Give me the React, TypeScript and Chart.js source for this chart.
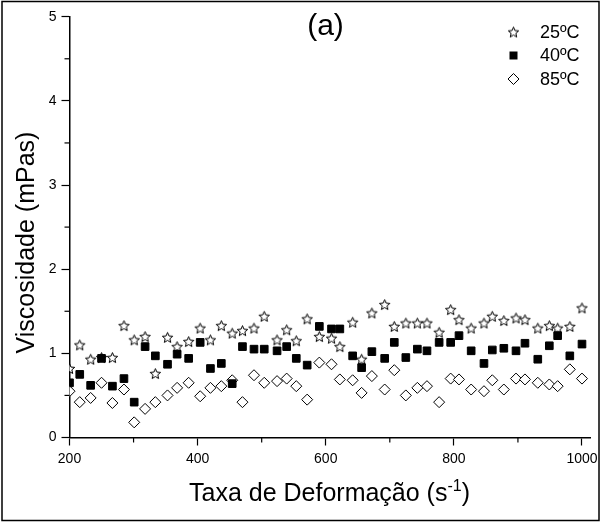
import { useEffect, useRef } from 'react';
import { Chart, registerables } from 'chart.js';

Chart.register(...registerables);

// Shear rate (s^-1) shared by the three temperature series
const shearRate = [200, 216, 233, 250, 267, 285, 301, 318, 334, 353, 368, 386, 404, 420, 437, 454, 470, 488, 504, 524, 539, 554, 571, 590, 609, 622, 642, 656, 672, 692, 707, 725, 743, 758, 777, 795, 808, 827, 847, 860, 878, 897, 911, 931, 949, 962, 981, 1000];

// Viscosity (mPas) at each temperature
const visc25 = [0.82, 1.10, 0.93, 0.95, 0.95, 1.33, 1.16, 1.20, 0.76, 1.19, 1.08, 1.14, 1.30, 1.16, 1.33, 1.24, 1.27, 1.30, 1.44, 1.16, 1.28, 1.15, 1.41, 1.20, 1.18, 1.08, 1.37, 0.93, 1.48, 1.58, 1.32, 1.36, 1.36, 1.36, 1.25, 1.52, 1.40, 1.30, 1.36, 1.44, 1.39, 1.42, 1.40, 1.30, 1.33, 1.30, 1.32, 1.54];
const visc40 = [0.65, 0.75, 0.62, 0.94, 0.61, 0.70, 0.42, 1.08, 0.97, 0.87, 0.99, 0.94, 1.13, 0.82, 0.88, 0.64, 1.08, 1.05, 1.05, 1.03, 1.08, 0.94, 0.86, 1.32, 1.29, 1.29, 0.97, 0.83, 1.02, 0.94, 1.13, 0.95, 1.05, 1.03, 1.13, 1.13, 1.21, 1.03, 0.88, 1.04, 1.06, 1.03, 1.12, 0.93, 1.09, 1.21, 0.97, 1.11];
const visc85 = [0.55, 0.42, 0.47, 0.65, 0.41, 0.57, 0.18, 0.34, 0.42, 0.50, 0.59, 0.65, 0.49, 0.59, 0.61, 0.68, 0.42, 0.74, 0.65, 0.67, 0.70, 0.61, 0.45, 0.89, 0.87, 0.69, 0.68, 0.53, 0.73, 0.57, 0.80, 0.50, 0.59, 0.61, 0.42, 0.70, 0.69, 0.57, 0.55, 0.68, 0.57, 0.70, 0.69, 0.65, 0.63, 0.61, 0.81, 0.70];

const seriesLabels = ['25ºC', '40ºC', '85ºC'];
const xMajorTicks = [200, 400, 600, 800, 1000];
const xMinorTicks = [300, 500, 700, 900];
const yMinorTicks = [0.5, 1.5, 2.5, 3.5, 4.5];

const FONT = "'Liberation Sans', Arial, Helvetica, sans-serif";

function makeStar(r: number): HTMLCanvasElement {
  const size = Math.ceil(r * 2 + 4);
  const c = document.createElement('canvas');
  c.width = size;
  c.height = size;
  const ctx = c.getContext('2d') as CanvasRenderingContext2D;
  const cx = size / 2;
  const cy = size / 2 + r * 0.1;
  ctx.beginPath();
  for (let i = 0; i < 10; i++) {
    const ang = -Math.PI / 2 + (i * Math.PI) / 5;
    const rr = i % 2 === 0 ? r : r * 0.45;
    const px = cx + rr * Math.cos(ang);
    const py = cy + rr * Math.sin(ang);
    if (i === 0) ctx.moveTo(px, py);
    else ctx.lineTo(px, py);
  }
  ctx.closePath();
  ctx.fillStyle = '#fff';
  ctx.fill();
  ctx.lineWidth = 1;
  ctx.strokeStyle = '#000';
  ctx.stroke();
  return c;
}

export default function App() {
  const ref = useRef<HTMLCanvasElement | null>(null);

  useEffect(() => {
    const canvas = ref.current;
    if (!canvas) return;
    const star = makeStar(5.5);

    const toPoints = (ys: number[]) => ys.map((v, i) => ({ x: shearRate[i], y: v }));

    const decor = {
      id: 'decor',
      afterDraw(chart: any) {
        const { ctx, chartArea } = chart;
        const xs = chart.scales.x;
        const ys = chart.scales.y;
        ctx.save();
        ctx.strokeStyle = '#000';
        ctx.fillStyle = '#000';

        // minor ticks
        ctx.lineWidth = 1.2;
        for (const v of xMinorTicks) {
          const px = xs.getPixelForValue(v);
          ctx.beginPath();
          ctx.moveTo(px, chartArea.bottom);
          ctx.lineTo(px, chartArea.bottom + 5);
          ctx.stroke();
        }
        for (const v of yMinorTicks) {
          const py = ys.getPixelForValue(v);
          ctx.beginPath();
          ctx.moveTo(chartArea.left, py);
          ctx.lineTo(chartArea.left - 5, py);
          ctx.stroke();
        }

        // x axis title with superscript
        const main = 'Taxa de Deformação (s';
        const sup = '-1';
        const end = ')';
        ctx.font = `25px ${FONT}`;
        const w1 = ctx.measureText(main).width;
        const w3 = ctx.measureText(end).width;
        ctx.font = `16px ${FONT}`;
        const w2 = ctx.measureText(sup).width;
        let tx = 329.5 - (w1 + w2 + w3) / 2;
        ctx.textAlign = 'left';
        ctx.textBaseline = 'alphabetic';
        ctx.font = `25px ${FONT}`;
        ctx.fillText(main, tx, 501);
        tx += w1;
        ctx.font = `16px ${FONT}`;
        ctx.fillText(sup, tx, 491);
        tx += w2;
        ctx.font = `25px ${FONT}`;
        ctx.fillText(end, tx, 501);

        // y axis title
        ctx.save();
        ctx.translate(33.5, 242.5);
        ctx.rotate(-Math.PI / 2);
        ctx.textAlign = 'center';
        ctx.font = `25px ${FONT}`;
        ctx.fillText('Viscosidade (mPas)', 0, 0);
        ctx.restore();

        // panel label
        ctx.textAlign = 'center';
        ctx.font = `30px ${FONT}`;
        ctx.fillText('(a)', 325.5, 35);

        // legend
        const ly = [32, 55.5, 79];
        const mx = 513.5;
        ctx.drawImage(star, mx - star.width / 2, ly[0] - star.height / 2);
        ctx.fillRect(mx - 4, ly[1] - 4, 8, 8);
        ctx.beginPath();
        ctx.moveTo(mx, ly[2] - 5.5);
        ctx.lineTo(mx + 5.5, ly[2]);
        ctx.lineTo(mx, ly[2] + 5.5);
        ctx.lineTo(mx - 5.5, ly[2]);
        ctx.closePath();
        ctx.fillStyle = '#fff';
        ctx.fill();
        ctx.lineWidth = 1;
        ctx.stroke();
        ctx.fillStyle = '#000';
        ctx.textAlign = 'left';
        ctx.textBaseline = 'middle';
        ctx.font = `18px ${FONT}`;
        seriesLabels.forEach((t, i) => ctx.fillText(t, 540, ly[i] + 1));

        // outer frame
        ctx.lineWidth = 1.5;
        ctx.strokeRect(2, 1.5, 597, 519);
        ctx.restore();
      },
    };

    const chart = new Chart(canvas, {
      type: 'scatter',
      data: {
        datasets: [
          {
            label: seriesLabels[0],
            data: toPoints(visc25),
            pointStyle: star as any,
            pointRadius: 5.5,
            order: 3,
            clip: 0,
          },
          {
            label: seriesLabels[1],
            data: toPoints(visc40),
            pointStyle: 'rect',
            pointRadius: 5.4,
            backgroundColor: '#000',
            borderColor: '#000',
            borderWidth: 1,
            order: 1,
            clip: 0,
          },
          {
            label: seriesLabels[2],
            data: toPoints(visc85),
            pointStyle: 'rectRot',
            pointRadius: 5.5,
            backgroundColor: '#fff',
            borderColor: '#000',
            borderWidth: 1,
            order: 2,
            clip: 0,
          },
        ],
      },
      options: {
        responsive: false,
        animation: false,
        devicePixelRatio: 1,
        events: [],
        layout: { padding: { left: 0, top: 16.7, right: 11, bottom: 0 } },
        plugins: {
          legend: { display: false },
          tooltip: { enabled: false },
          title: { display: false },
        },
        scales: {
          x: {
            type: 'linear',
            min: 200,
            max: 1012.5,
            afterBuildTicks: (s: any) => {
              s.ticks = xMajorTicks.map((v) => ({ value: v }));
            },
            ticks: {
              color: '#000',
              padding: 5,
              maxRotation: 0,
              autoSkip: false,
              font: { family: FONT, size: 14 },
              callback: (v: any) => String(v),
            },
            grid: {
              drawOnChartArea: false,
              drawTicks: true,
              tickLength: 8,
              color: '#000',
              tickWidth: 1.2,
            },
            border: { display: true, color: '#000', width: 1.5 },
            afterFit: (s: any) => {
              s.height = 85.5;
              s.paddingLeft = 0;
              s.paddingRight = 0;
            },
          },
          y: {
            type: 'linear',
            min: 0,
            max: 5,
            ticks: {
              stepSize: 1,
              color: '#000',
              padding: 5,
              font: { family: FONT, size: 14 },
            },
            grid: {
              drawOnChartArea: false,
              drawTicks: true,
              tickLength: 8,
              color: '#000',
              tickWidth: 1.2,
            },
            border: { display: true, color: '#000', width: 1.5 },
            afterFit: (s: any) => {
              s.width = 69.5;
              s.paddingTop = 0;
              s.paddingBottom = 0;
            },
          },
        },
      },
      plugins: [decor],
    });

    return () => chart.destroy();
  }, []);

  return (
    <div style={{ position: 'fixed', left: 0, top: 0, width: 601, height: 523, background: '#fff' }}>
      <canvas ref={ref} width={601} height={523} style={{ display: 'block', width: 601, height: 523 }} />
    </div>
  );
}
